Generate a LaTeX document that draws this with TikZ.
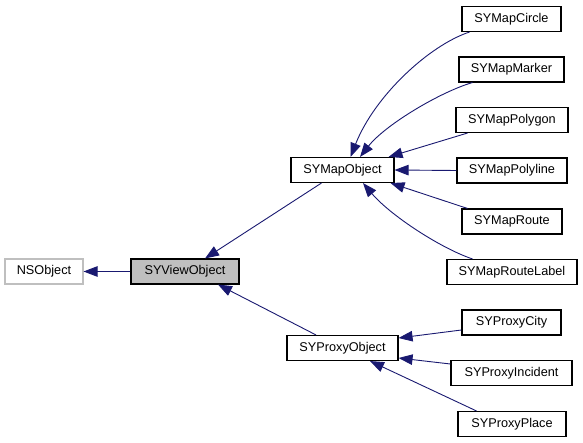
\documentclass[tikz,border=0pt]{standalone}
\usepackage{fontspec}
\setmainfont{Liberation Sans}
\usetikzlibrary{arrows.meta}
\definecolor{edgeblue}{HTML}{191970}
\definecolor{boxgray}{HTML}{BFBFBF}
\begin{document}
\begin{tikzpicture}[x=1pt,y=-1pt,
  cls/.style={draw=black,line width=1.1pt,rectangle,inner sep=0pt,minimum height=25pt,font=\fontsize{12.7}{14}\selectfont},
  edge/.style={draw=edgeblue,line width=0.9pt,-{Triangle[length=14pt,width=10.5pt]}}]
\useasboundingbox (0,0) rectangle (583,443);
\node[cls,draw=boxgray,minimum width=78pt] (ns) at (44,271.5) {NSObject};
\node[cls,fill=boxgray,minimum width=108pt] (view) at (185,271.5) {SYViewObject};
\node[cls,minimum width=103pt] (map) at (342.5,170) {SYMapObject};
\node[cls,minimum width=111pt] (proxy) at (342.5,348) {SYProxyObject};
\node[cls,minimum width=99pt] (circle) at (511.5,19) {SYMapCircle};
\node[cls,minimum width=105pt] (marker) at (511.5,69.5) {SYMapMarker};
\node[cls,minimum width=112pt] (polygon) at (512,120) {SYMapPolygon};
\node[cls,minimum width=110pt] (polyline) at (512,170.5) {SYMapPolyline};
\node[cls,minimum width=100pt] (route) at (512,221.5) {SYMapRoute};
\node[cls,minimum width=130pt] (routelabel) at (512,272) {SYMapRouteLabel};
\node[cls,minimum width=99pt] (city) at (511.5,322.5) {SYProxyCity};
\node[cls,minimum width=121pt] (incident) at (511.5,373) {SYProxyIncident};
\node[cls,minimum width=108pt] (place) at (512,424) {SYProxyPlace};
% edges
\draw[edge] (view.west) -- (ns.east);
\draw[edge] ([xshift=31pt]map.south west) -- ([xshift=20pt]view.north);
\draw[edge] ([xshift=-26.5pt]proxy.north) -- ([xshift=33pt]view.south);
\draw[edge] ([xshift=8pt]circle.south west) .. controls (430,45) and (375,95) .. ([xshift=8pt]map.north);
\draw[edge] ([xshift=14pt]marker.south west) .. controls (440,92) and (385,125) .. ([xshift=17.5pt]map.north);
\draw[edge] ([xshift=12pt]polygon.south west) -- ([xshift=-6pt]map.north east);
\draw[edge] (polyline.west) -- (map.east);
\draw[edge] ([xshift=6pt]route.north west) -- ([xshift=-4pt]map.south east);
\draw[edge] ([xshift=26pt]routelabel.north west) .. controls (440,248) and (390,215) .. ([xshift=20.5pt]map.south);
\draw[edge] ([yshift=-7.5pt]city.west) -- ([yshift=10pt]proxy.east);
\draw[edge] ([yshift=9pt]incident.west) -- ([yshift=-10pt]proxy.east);
\draw[edge] ([xshift=19pt]place.north west) -- ([xshift=27.5pt]proxy.south);
\end{tikzpicture}
\end{document}
